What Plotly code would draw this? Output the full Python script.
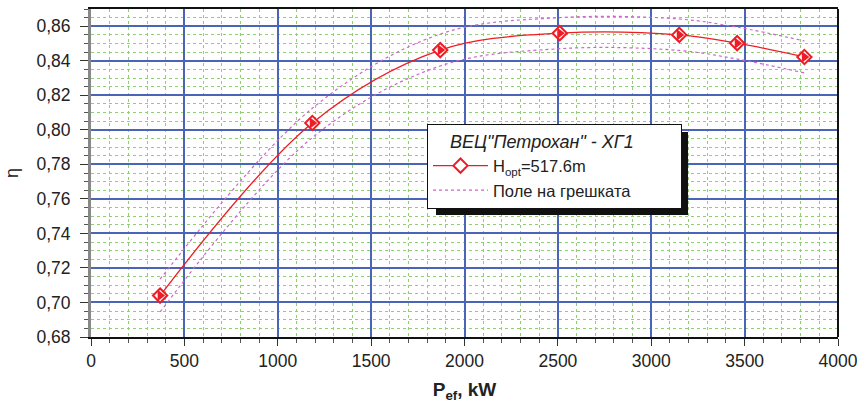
import plotly.graph_objects as go

# Data
p_ef = [370, 1185, 1870, 2510, 3150, 3460, 3820]
eta = [0.704, 0.804, 0.8462, 0.8560, 0.8550, 0.8502, 0.8422]
eta_upper = [0.7135, 0.8125, 0.8555, 0.8650, 0.8642, 0.8595, 0.8515]
eta_lower = [0.6945, 0.7955, 0.8370, 0.8470, 0.8460, 0.8410, 0.8330]

x_ticks = [0, 500, 1000, 1500, 2000, 2500, 3000, 3500, 4000]
y_ticks = [0.68, 0.70, 0.72, 0.74, 0.76, 0.78, 0.80, 0.82, 0.84, 0.86]

legend_title = '\u00a0\u00a0\u00a0\u00a0ВЕЦ"Петрохан" - ХГ1' + '\u00a0' * 9
series_name = "H<sub>opt</sub>=517.6m"
band_name = "Поле на грешката"

FONT = "Liberation Sans, Arial, sans-serif"
RED = "#ee1c24"
PINK = "#cc66cc"
BLUE = "#4a64b8"
GREEN = "#8fd070"

fig = go.Figure()

fig.add_trace(go.Scatter(
    x=p_ef, y=eta, mode="lines+markers", name=series_name,
    line=dict(color=RED, width=1.3, shape="spline", smoothing=1.0),
    marker=dict(symbol="diamond", size=11, color="white",
                line=dict(color=RED, width=2)),
))
fig.add_trace(go.Scatter(
    x=p_ef, y=eta, mode="markers", showlegend=False, hoverinfo="skip",
    marker=dict(symbol="triangle-right", size=10, color=RED, line=dict(width=0)),
))
fig.add_trace(go.Scatter(
    x=p_ef, y=eta_upper, mode="lines", name=band_name, legendgroup="band",
    line=dict(color=PINK, width=1.2, dash="dot", shape="spline", smoothing=1.0),
))
fig.add_trace(go.Scatter(
    x=p_ef, y=eta_lower, mode="lines", name=band_name, legendgroup="band",
    showlegend=False,
    line=dict(color=PINK, width=1.2, dash="dot", shape="spline", smoothing=1.0),
))

L, R, T, B = 91, 24, 9, 68
W, H = 862, 405
pw, ph = W - L - R, H - T - B

def px_x(p):
    return (p - L) / pw

def px_y(p):
    return (H - B - p) / ph

# legend shadow
fig.add_shape(type="rect", xref="paper", yref="paper",
              x0=px_x(436), x1=px_x(688), y0=px_y(215), y1=px_y(132),
              fillcolor="#111111", line=dict(width=0), layer="above")
# right border
fig.add_shape(type="line", xref="paper", yref="paper",
              x0=1, x1=1, y0=0, y1=1, line=dict(color="#111111", width=2),
              layer="above")

fig.update_layout(
    width=W, height=H,
    margin=dict(l=L, r=R, t=T, b=B, autoexpand=False),
    paper_bgcolor="white", plot_bgcolor="white",
    separators=",.",
    font=dict(family=FONT, size=17, color="#222222"),
    legend=dict(
        x=px_x(427), y=px_y(124), xanchor="left", yanchor="top",
        bgcolor="white", bordercolor="#111111", borderwidth=1,
        title=dict(text=legend_title,
                   font=dict(family=FONT, size=18, style="italic", color="#222222"),
                   side="top"),
        font=dict(family=FONT, size=16.5, color="#222222"),
        itemwidth=55, tracegroupgap=0,
    ),
    xaxis=dict(
        range=[0, 4000], tickvals=x_ticks, automargin=False,
        showgrid=True, gridcolor=BLUE, gridwidth=1.5,
        showline=True, linecolor="#111111", linewidth=2, mirror=True,
        ticks="outside", ticklen=7, tickcolor="#333333", tickwidth=1,
        zeroline=False,
        minor=dict(dtick=100, showgrid=True, gridcolor=GREEN, griddash="dot",
                   gridwidth=1, ticks="outside", ticklen=4, tickcolor="#555555"),
        title=dict(text="<b>P<sub>ef</sub>, kW</b>", font=dict(size=19, color="#222222"),
                   standoff=13),
        tickfont=dict(size=17.5),
    ),
    yaxis=dict(
        range=[0.68, 0.87], tickvals=y_ticks, tickformat=".2f", automargin=False,
        showgrid=True, gridcolor=BLUE, gridwidth=1.5,
        showline=True, linecolor="#888888", linewidth=3,
        ticks="outside", ticklen=8, tickcolor="#333333", tickwidth=1,
        ticklabelstandoff=6,
        zeroline=False,
        minor=dict(dtick=0.005, showgrid=True, gridcolor=GREEN, griddash="dot",
                   gridwidth=1, ticks="outside", ticklen=4, tickcolor="#555555"),
        title=dict(text="η", font=dict(size=18, color="#222222"), standoff=14),
        tickfont=dict(size=17.5),
    ),
)

fig.write_html("out.html", config={"displayModeBar": False},
               post_script="document.body.style.margin='0px';")
